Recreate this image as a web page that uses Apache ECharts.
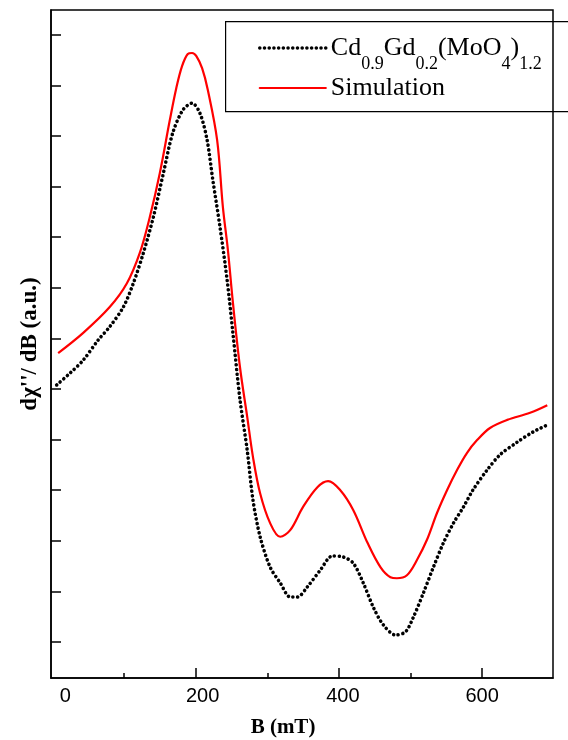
<!DOCTYPE html>
<html>
<head>
<meta charset="utf-8">
<script src="https://cdn.jsdelivr.net/npm/echarts@6/dist/echarts.min.js"></script>
<style>html,body{margin:0;padding:0;background:#fff}#c{width:568px;height:740px}</style>
</head>
<body>
<div id="c"></div>
<script>
// Experimental spectrum Cd0.9Gd0.2(MoO4)1.2 : field B (mT) and derivative signal (a.u.)
const expB = [6,25,43,64,80,99,113,127,141,155,168,182,195,206,216,224,234,244,252,262,272,280,290,304,318,332,342,356,374,391,406,420,434,448,462,479,493,504,518,532,546,560,574,587,607,625,649,671,691];
const expY = [5.08,5.32,5.57,5.97,6.23,6.62,7.09,7.69,8.40,9.27,10.06,10.51,10.65,10.45,9.92,9.13,8.20,7.15,6.11,4.78,3.79,2.81,2.08,1.48,1.17,0.89,0.89,1.09,1.42,1.70,1.68,1.56,1.17,0.69,0.34,0.14,0.20,0.49,0.97,1.48,1.96,2.35,2.67,3.00,3.40,3.70,3.95,4.15,4.29];
// Simulation
const simB = [8,43,80,104,122,136,150,164,173,181,189,195,201,209,217,230,238,245,252,262,272,280,290,304,318,332,350,370,385,402,420,440,458,472,481,495,509,523,537,551,565,579,593,611,635,667,691];
const simY = [5.71,6.11,6.62,7.09,7.69,8.40,9.27,10.32,10.95,11.38,11.62,11.64,11.58,11.34,10.91,9.92,8.60,7.75,6.71,5.42,4.45,3.66,2.94,2.35,2.08,2.21,2.67,3.06,3.18,3.00,2.61,1.96,1.48,1.28,1.26,1.32,1.62,2.02,2.55,3.00,3.40,3.74,3.99,4.23,4.39,4.53,4.68];
const xMajorTicks = [200, 400, 600];
const xMinorTicks = [100, 300, 500];
const xLabels = [0, 200, 400, 600];
const yTicks = [0,1,2,3,4,5,6,7,8,9,10,11,12];
const seriesNames = ['Cd0.9Gd0.2(MoO4)1.2', 'Simulation'];

const serif = 'Liberation Serif, Times New Roman, serif';
const sans = 'Liberation Sans, Arial, sans-serif';
const chart = echarts.init(document.getElementById('c'), null, {renderer: 'canvas'});
const labelPad = {0: 26, 200: 14, 400: 8, 600: 0};
const richLabels = {};
xLabels.forEach(v => { richLabels['p' + v] = {padding: [0, 0, 0, labelPad[v]], fontSize: 20, fontFamily: sans, color: '#000'}; });
chart.setOption({
  animation: false,
  backgroundColor: '#fff',
  grid: {left: 51, right: 15, top: 10, bottom: 62, show: true, borderColor: '#000', borderWidth: 1.5, containLabel: false, outerBoundsMode: 'none'},
  legend: {
    orient: 'vertical', left: 258, top: 35, padding: 0, itemWidth: 66, itemHeight: 14, itemGap: 2,
    selectedMode: false,
    data: seriesNames,
    itemStyle: {opacity: 0},
    lineStyle: {width: 'inherit', type: 'inherit', cap: 'round'},
    formatter: function (n) {
      if (n === seriesNames[0]) return '{b|Cd}{s|0.9}{b|Gd}{s|0.2}{b|(MoO}{s|4}{b|)}{s|1.2}';
      return '{m|' + n + '}';
    },
    textStyle: {
      fontFamily: serif, color: '#000',
      rich: {
        b: {fontSize: 26, fontFamily: serif, lineHeight: 50, verticalAlign: 'middle', color: '#000'},
        s: {fontSize: 18, fontFamily: serif, lineHeight: 50, verticalAlign: 'bottom', color: '#000'},
        m: {fontSize: 26, fontFamily: serif, lineHeight: 30, verticalAlign: 'middle', color: '#000'}
      }
    }
  },
  graphic: [{type: 'rect', left: 225, top: 21, shape: {width: 360, height: 90}, style: {fill: 'rgba(0,0,0,0)', stroke: '#000', lineWidth: 1.2}, z: 1}],
  xAxis: [{
    type: 'value', min: -2, max: 699,
    name: 'B (mT)', nameLocation: 'middle', nameGap: 39,
    nameTextStyle: {fontFamily: serif, fontWeight: 'bold', fontSize: 21, color: '#000', padding: [0, 38, 0, 0]},
    axisLine: {show: true, onZero: false, lineStyle: {color: '#000', width: 1.5}},
    axisTick: {show: true, inside: true, length: 10, customValues: xMajorTicks, lineStyle: {color: '#000', width: 1.5}},
    axisLabel: {show: true, customValues: xLabels, margin: 8, fontFamily: sans, fontSize: 20, color: '#000',
      formatter: function (v) { return '{p' + v + '|' + v + '}'; },
      rich: richLabels},
    splitLine: {show: false}
  }, {
    type: 'value', min: -2, max: 699, position: 'bottom', offset: 0,
    axisLine: {show: false, onZero: false},
    axisTick: {show: true, inside: true, length: 5, customValues: xMinorTicks, lineStyle: {color: '#000', width: 1.5}},
    axisLabel: {show: false}, splitLine: {show: false}
  }],
  yAxis: {
    type: 'value', min: -0.711, max: 12.49,
    name: "dχ''/ dB (a.u.)", nameLocation: 'middle', nameGap: 9, nameRotate: 90,
    nameTextStyle: {fontFamily: serif, fontWeight: 'bold', fontSize: 23, color: '#000'},
    axisLine: {show: true, onZero: false, lineStyle: {color: '#000', width: 1.5}},
    axisTick: {show: true, inside: true, length: 10, customValues: yTicks, lineStyle: {color: '#000', width: 1.5}},
    axisLabel: {show: false}, splitLine: {show: false}
  },
  series: [{
    name: seriesNames[0], type: 'line', xAxisIndex: 0, symbol: 'none', smooth: 0.3,
    data: expB.map((b, i) => [b, expY[i]]),
    lineStyle: {color: '#000', width: 3.6, type: [0.01, 4.7], cap: 'round'},
    itemStyle: {color: '#000'}, z: 3
  }, {
    name: seriesNames[1], type: 'line', xAxisIndex: 0, symbol: 'none', smooth: 0.35,
    data: simB.map((b, i) => [b, simY[i]]),
    lineStyle: {color: '#f00', width: 2.2},
    itemStyle: {color: '#f00'}, z: 4
  }]
});
</script>
</body>
</html>
